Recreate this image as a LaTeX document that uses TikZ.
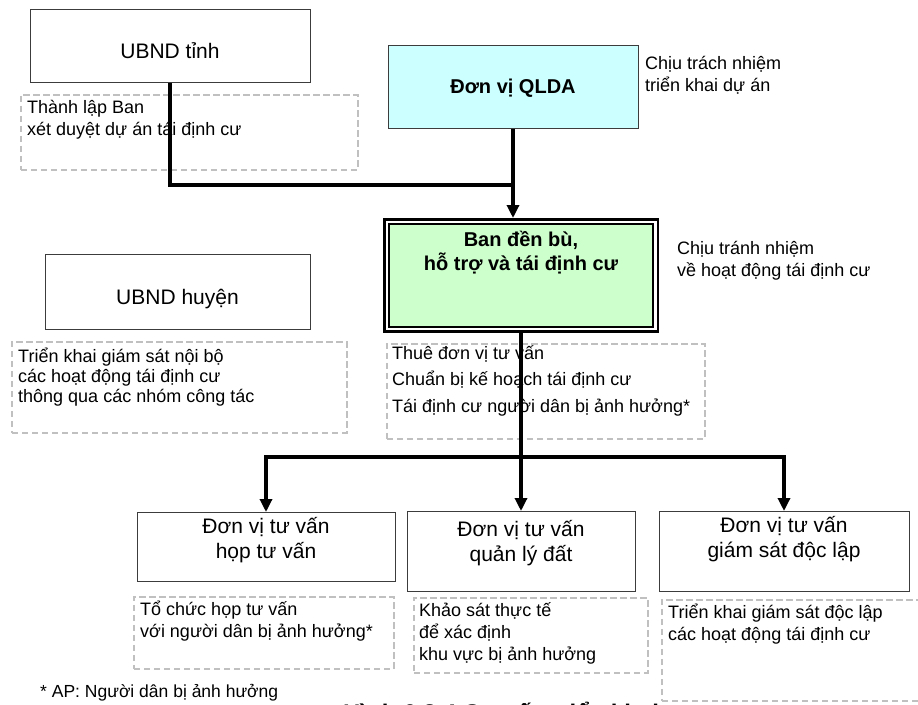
\documentclass[tikz,border=0pt]{standalone}
\usepackage{fontspec}
\setmainfont{Liberation Sans}
\usetikzlibrary{positioning,arrows.meta}
\definecolor{qldacyan}{HTML}{CCFFFF}
\definecolor{bangreen}{HTML}{CCFFCC}
\definecolor{dashgray}{HTML}{C0C0C0}
\definecolor{framegray}{HTML}{3C3C3C}

\begin{document}
\begin{tikzpicture}[x=1pt,y=-1pt,
  unit/.style={draw=framegray,line width=0.9pt,fill=white,inner sep=0pt,align=center,
    anchor=north,font=\fontsize{21}{24.5}\selectfont},
  headunit/.style={unit,font=\bfseries\fontsize{20}{24}\selectfont},
  note/.style={draw=dashgray,line width=1.8pt,dash pattern=on 6.5pt off 3.5pt,fill=white,
    inner sep=0pt,anchor=north west},
  notetext/.style={anchor=base west,align=left,inner sep=0pt,font=\fontsize{18}{22}\selectfont},
  link/.style={line width=3.2pt},
  flow/.style={link,-{Triangle[length=13pt,width=12pt]}}]
\useasboundingbox (0,0) rectangle (918,704);

% caption sits under the last note box
\node[anchor=base west,inner sep=0pt,font=\bfseries\fontsize{24}{28}\selectfont] (caption) at (343,721)
  {Hình 6.8.4 Cơ cấu triển khai};
\node[anchor=base west,inner sep=0pt,font=\fontsize{17.5}{20}\selectfont] (apnote) at (40,697)
  {* AP: Người dân bị ảnh hưởng};

% dashed task boxes (text anchored on its last line)
\node[note,minimum width=337,minimum height=75] (tinhnote) at (20,94) {};
\node[note,minimum width=335,minimum height=91] (huyennote) at (11,341) {};
\node[note,minimum width=318,minimum height=95] (bannote) at (386,343) {};
\node[note,minimum width=260,minimum height=72] (hopnote) at (133,596) {};
\node[note,minimum width=234,minimum height=75] (datnote) at (413,597) {};
\node[note,minimum width=280,minimum height=101] (gsatnote) at (661,599) {};

\node[notetext] at ([shift={(7,41)}]tinhnote.north west) {Thành lập Ban\\ xét duyệt dự án tái định cư};
\node[notetext,font=\fontsize{18}{20}\selectfont] at ([shift={(7,61)}]huyennote.north west)
  {Triển khai giám sát nội bộ\\ các hoạt động tái định cư\\ thông qua các nhóm công tác};
\node[notetext,font=\fontsize{18}{26.5}\selectfont] at ([shift={(6,69)}]bannote.north west)
  {Thuê đơn vị tư vấn\\ Chuẩn bị kế hoạch tái định cư\\ Tái định cư người dân bị ảnh hưởng*};
\node[notetext] at ([shift={(7,41)}]hopnote.north west) {Tổ chức họp tư vấn\\ với người dân bị ảnh hưởng*};
\node[notetext] at ([shift={(6,63)}]datnote.north west) {Khảo sát thực tế\\ để xác định\\ khu vực bị ảnh hưởng};
\node[notetext] at ([shift={(7,41)}]gsatnote.north west) {Triển khai giám sát độc lập\\ các hoạt động tái định cư};

% units
\node[unit,minimum width=280,text height=49,text depth=24] (tinh) at (170,9) {UBND tỉnh};
\node[headunit,fill=qldacyan,minimum width=250,text height=48,text depth=35] (qlda) at (513,45) {Đơn vị QLDA};
\node[headunit,fill=bangreen,draw=black,line width=5pt,minimum width=271,text height=49.5,text depth=60]
  (ban) at (521,218) {Ban đền bù,\\ hỗ trợ và tái định cư};
\draw[white,line width=2.5pt] ([shift={(3.75,3.75)}]ban.north west) rectangle ([shift={(-3.75,-3.75)}]ban.south east);
\draw[line width=2pt] ([shift={(6,6)}]ban.north west) rectangle ([shift={(-6,-6)}]ban.south east);
\node[unit,minimum width=265,text height=50,text depth=25] (huyen) at (177.5,254) {UBND huyện};
\node[unit,minimum width=258,text height=46,text depth=23] (hop) at (266,512) {Đơn vị tư vấn\\ họp tư vấn};
\node[unit,minimum width=228,text height=50,text depth=30] (dat) at (521,511) {Đơn vị tư vấn\\ quản lý đất};
\node[unit,minimum width=250,text height=46,text depth=34] (gsat) at (784,511) {Đơn vị tư vấn\\ giám sát độc lập};

\node[notetext] (qldaduty) at (645,91) {Chịu trách nhiệm\\ triển khai dự án};
\node[notetext] (banduty) at (677,276) {Chịu tránh nhiệm\\ về hoạt động tái định cư};

% connectors
\coordinate (tie) at (qlda.south |- 0,185);
\coordinate (bus) at (ban.south |- 0,457);
\draw[link] (tinh.south) |- (tie);
\draw[flow] (qlda.south) -- (qlda.south |- ban.north);
\draw[link] (ban.south) -- (bus);
\draw[flow] (bus) -| (hop.north);
\draw[flow] (bus) -- (dat.north);
\draw[flow] (bus) -| (gsat.north);
\end{tikzpicture}
\end{document}
